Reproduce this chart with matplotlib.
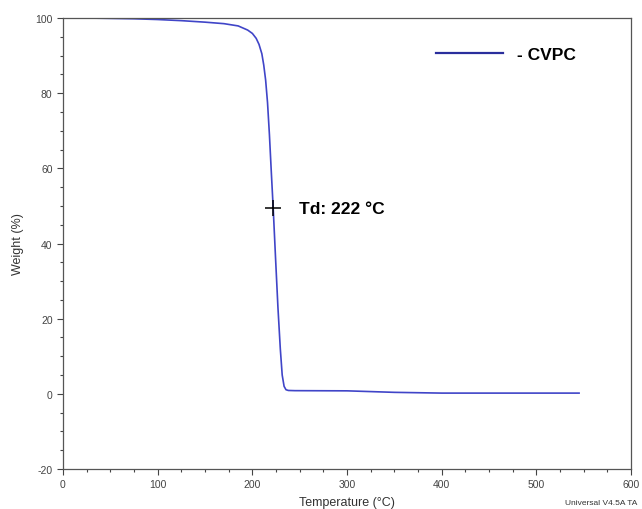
import matplotlib
matplotlib.use("Agg")
import matplotlib.pyplot as plt
from matplotlib.ticker import MultipleLocator

plt.rcParams['font.family'] = ['Liberation Sans', 'DejaVu Sans']
plt.rcParams['axes.unicode_minus'] = False

# TGA trace for CVPC
temperature = [25, 50, 75, 100, 125, 150, 170, 185, 195, 200, 204, 207, 210, 212, 214,
               216, 218, 220, 222, 224.5, 227, 229.5, 231.5, 233.5, 235.5, 238, 245,
               300, 350, 400, 450, 500, 545]
weight = [100.0, 99.9, 99.8, 99.6, 99.3, 98.9, 98.5, 97.9, 96.8, 95.9, 94.6, 93.0, 90.5, 87.5, 83.5,
          77.5, 69.0, 59.0, 49.4, 36.0, 23.0, 12.0, 5.0, 2.0, 1.1, 0.9, 0.85,
          0.8, 0.4, 0.2, 0.2, 0.2, 0.2]
td_temp = 222
td_weight = 49.4

fig = plt.figure(figsize=(6.42, 5.10), dpi=100)
ax = fig.add_axes([0.0981, 0.0784, 0.885, 0.8843])

ax.plot(temperature, weight, color='#4045c8', lw=1.2, label='- CVPC')
ax.plot(td_temp, td_weight, marker='+', color='black', ms=11, mew=1.1)
ax.text(td_temp + 27, td_weight, f'Td: {td_temp} °C', fontsize=12.5, fontweight='bold',
        va='center', ha='left')

ax.set_xlim(0, 600)
ax.set_ylim(-20, 100)
ax.xaxis.set_major_locator(MultipleLocator(100))
ax.xaxis.set_minor_locator(MultipleLocator(25))
ax.yaxis.set_major_locator(MultipleLocator(20))
ax.yaxis.set_minor_locator(MultipleLocator(5))
ax.tick_params(which='both', direction='out', color='#444444', labelsize=7.5,
               labelcolor='#444444', width=0.8)
ax.tick_params(which='major', length=4)
ax.tick_params(which='minor', length=2.5)
for s in ax.spines.values():
    s.set_color('#555555')
    s.set_linewidth(0.9)

ax.set_xlabel('Temperature (°C)', fontsize=9, color='#333333', labelpad=5)
ax.set_ylabel('Weight (%)', fontsize=9, color='#333333', labelpad=8)

leg = ax.legend(loc='center right', bbox_to_anchor=(0.903, 0.9186), frameon=False,
                fontsize=12.5, handlelength=3.85, handletextpad=0.8,
                borderpad=0, borderaxespad=0)
for t in leg.get_texts():
    t.set_fontweight('bold')
leg.get_lines()[0].set_color('#2a2e9c')
leg.get_lines()[0].set_linewidth(1.6)

fig.text(565 / 642, 1 - 504 / 510, 'Universal V4.5A TA', fontsize=6, color='#333333',
         ha='left', va='center')

fig.savefig('out.png', dpi=100)
